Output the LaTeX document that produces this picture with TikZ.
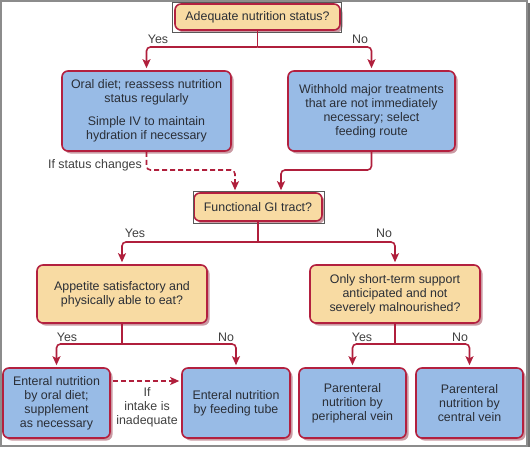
\documentclass[tikz,border=0pt]{standalone}
\usepackage{fontspec}
\setmainfont{Liberation Sans}
\usetikzlibrary{arrows.meta,shadows,calc}
\definecolor{yfill}{HTML}{F8DBA3}
\definecolor{bfill}{HTML}{98BBE6}
\definecolor{bord}{HTML}{B3203F}
\definecolor{lc}{HTML}{B01F3C}
\definecolor{shad}{HTML}{8A2035}
\definecolor{txt}{HTML}{2A2E36}
\definecolor{labc}{HTML}{404040}
\begin{document}
\begin{tikzpicture}[x=1pt,y=-1pt,
  font=\fontsize{12.4}{14}\selectfont,
  box/.style={draw=bord, line width=1.6pt, rounded corners=6pt, align=center, text=txt, inner sep=2pt,
    drop shadow={shadow xshift=2.5pt,shadow yshift=-2.5pt,fill=shad,opacity=.45}},
  ybox/.style={box, fill=yfill},
  bbox/.style={box, fill=bfill},
  conn/.style={draw=lc, line width=1.6pt, rounded corners=4pt},
  arr/.style={conn, -{Stealth[length=9pt,width=8pt,inset=2pt]}, shorten >=2pt},
  dconn/.style={arr, dash pattern=on 5pt off 3pt},
  lab/.style={text=labc, inner sep=0pt},
  selrect/.style={draw=black!65, line width=0.7pt}]
\useasboundingbox (0,0) rectangle (531,450);
\fill[white] (0,0) rectangle (531,450);
% frame
\draw[black!45, line width=1.2pt] (1,1) rectangle (527,446);
\draw[black!55, line width=2pt] (528.5,3) -- (528.5,447);

% nodes
\node[ybox, minimum width=165pt, minimum height=26pt] (top) at (257.5,17) {Adequate nutrition status?};
\node[bbox, minimum width=169pt, minimum height=80pt] (A) at (146.5,111)
  {Oral diet; reassess nutrition\\status regularly\\[9pt]Simple IV to maintain\\hydration if necessary};
\node[bbox, minimum width=167pt, minimum height=80pt] (B) at (371.5,111)
  {Withhold major treatments\\that are not immediately\\necessary; select\\feeding route};
\node[ybox, minimum width=128pt, minimum height=28pt] (GI) at (258,207) {Functional GI tract?};
\node[ybox, minimum width=170pt, minimum height=58pt] (C) at (122,294)
  {Appetite satisfactory and\\physically able to eat?};
\node[ybox, minimum width=170pt, minimum height=58pt] (D) at (395,294)
  {Only short-term support\\anticipated and not\\severely malnourished?};
\node[bbox, minimum width=107pt, minimum height=70pt] (E1) at (56.5,403)
  {Enteral nutrition\\by oral diet;\\supplement\\as necessary};
\node[bbox, minimum width=108pt, minimum height=70pt] (E2) at (236,403)
  {Enteral nutrition\\by feeding tube};
\node[bbox, minimum width=107pt, minimum height=70pt] (E3) at (352.5,403)
  {Parenteral\\nutrition by\\peripheral vein};
\node[bbox, minimum width=107pt, minimum height=70pt] (E4) at (469.5,403)
  {Parenteral\\nutrition by\\central vein};

% selection rectangles
\draw[selrect] (172,2) rectangle (341,32);
\draw[selrect] (193,191) rectangle (324,223);

% junction coordinates
\coordinate (j1) at (257.5,47);
\coordinate (j2) at (258,242);
\coordinate (j3) at (122,344);
\coordinate (j4) at (395,344);
\coordinate (d1) at (146.5,170);
\coordinate (d2) at (235,170);
\coordinate (s1) at (371.5,170);
\coordinate (s2) at (281,170);
\coordinate (ea) at (0,381);

% connectors
\draw[conn] (top.south) -- (j1);
\draw[arr] (j1) -| (A.north);
\draw[arr] (j1) -| (B.north);
\draw[dconn] (A.south) -- (d1) -- (d2) -- (d2 |- GI.north);
\draw[arr] (B.south) -- (s1) -- (s2) -- (s2 |- GI.north);
\draw[conn] (GI.south) -- (j2);
\draw[arr] (j2) -| (C.north);
\draw[arr] (j2) -| (D.north);
\draw[conn] (C.south) -- (j3);
\draw[arr] (j3) -| (E1.north);
\draw[arr] (j3) -| (E2.north);
\draw[conn] (D.south) -- (j4);
\draw[arr] (j4) -| (E3.north);
\draw[arr] (j4) -| (E4.north);
\draw[dconn, shorten <=2pt] (E1.east |- ea) -- (E2.west |- ea);

% labels
\node[lab] (l1) at (158,39) {Yes};
\node[lab] (l2) at (360,39) {No};
\node[lab, anchor=east] (l3) at (142,165) {If status changes};
\node[lab] (l4) at (135,233) {Yes};
\node[lab] (l5) at (384,233) {No};
\node[lab] (l6) at (67,337) {Yes};
\node[lab] (l7) at (226,337) {No};
\node[lab] (l8) at (362,337) {Yes};
\node[lab] (l9) at (460,337) {No};
\node[lab, align=center] (l10) at (147,407) {If\\intake is\\inadequate};
\end{tikzpicture}
\end{document}
